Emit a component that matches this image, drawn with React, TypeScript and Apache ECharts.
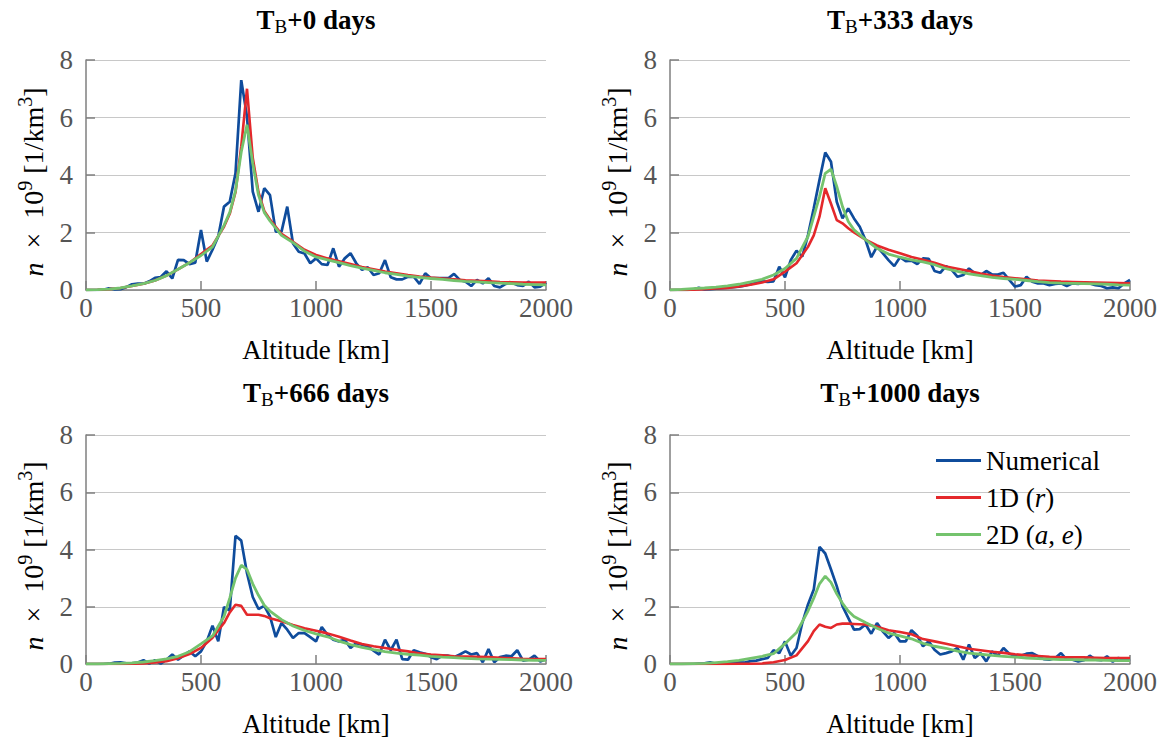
import React, { useEffect, useRef } from "react";
import * as echarts from "echarts";

const FONT = "Liberation Serif";

// Altitude grid of the numerical histogram (km)
const ALT: number[] = Array.from({ length: 81 }, (_, i) => i * 25);
// Altitudes of the analytic (smooth) model curves (km)
const SMOOTH_ALT: number[] = [
  0, 50, 100, 150, 200, 250, 300, 350, 400, 450, 500, 550, 600,
  625, 650, 675, 700, 725, 750, 775,
  800, 850, 900, 950, 1000, 1050, 1100, 1150, 1200, 1250, 1300, 1350, 1400, 1450,
  1500, 1550, 1600, 1650, 1700, 1750, 1800, 1850, 1900, 1950, 2000,
];

const TITLES_DAYS: string[] = ["0", "333", "666", "1000"];
const X_TICKS: number[] = [0, 500, 1000, 1500, 2000];
const Y_TICKS: number[] = [0, 2, 4, 6, 8];

// Numerical
const NUM_0: number[] = [
  0, 0, 0, 0.01, 0.06, 0.02, 0.03, 0.1, 0.2, 0.22,
  0.22, 0.3, 0.42, 0.45, 0.65, 0.4, 1.05, 1.04, 0.9, 0.95,
  2.09, 0.99, 1.4, 1.86, 2.9, 3.07, 4.06, 7.3, 6.03, 3.42,
  2.72, 3.54, 3.3, 2.03, 2.03, 2.9, 1.62, 1.33, 1.27, 0.93,
  1.1, 0.9, 0.87, 1.45, 0.81, 1.1, 1.28, 0.93, 0.7, 0.79,
  0.52, 0.58, 1.04, 0.44, 0.37, 0.37, 0.46, 0.46, 0.21, 0.58,
  0.41, 0.41, 0.41, 0.41, 0.56, 0.35, 0.29, 0.14, 0.35, 0.23,
  0.41, 0.14, 0.09, 0.21, 0.26, 0.17, 0.14, 0.29, 0.09, 0.12,
  0.26,
];
const NUM_333: number[] = [
  0, 0, 0, 0, 0.02, 0.08, 0.02, 0.03, 0.05, 0.06,
  0.08, 0.1, 0.12, 0.15, 0.2, 0.25, 0.3, 0.28, 0.3, 0.81,
  0.44, 1.04, 1.37, 1.16, 1.91, 2.84, 3.83, 4.78, 4.46, 3.07,
  2.49, 2.84, 2.49, 2.2, 1.74, 1.14, 1.51, 1.28, 1.04, 0.83,
  1.14, 1.0, 1.02, 0.9, 1.1, 1.08, 0.66, 0.6, 0.83, 0.7,
  0.46, 0.52, 0.75, 0.58, 0.52, 0.66, 0.54, 0.54, 0.6, 0.35,
  0.12, 0.17, 0.46, 0.29, 0.23, 0.23, 0.17, 0.21, 0.23, 0.14,
  0.23, 0.21, 0.26, 0.23, 0.17, 0.14, 0.06, 0.09, 0.06, 0.23,
  0.35,
];
const NUM_666: number[] = [
  0, 0, 0, 0, 0.01, 0.05, 0.06, 0.02, 0.02, 0.05,
  0.13, 0.01, 0.13, 0.01, 0.15, 0.33, 0.15, 0.3, 0.44, 0.27,
  0.44, 0.79, 1.34, 0.79, 1.99, 1.87, 4.48, 4.31, 3.17, 2.34,
  1.92, 2.03, 1.66, 0.94, 1.43, 1.2, 0.91, 1.08, 1.08, 0.94,
  0.79, 1.29, 1.02, 0.85, 0.79, 0.85, 0.56, 0.73, 0.67, 0.62,
  0.47, 0.33, 0.85, 0.48, 0.85, 0.17, 0.15, 0.48, 0.41, 0.36,
  0.24, 0.17, 0.29, 0.29, 0.24, 0.33, 0.44, 0.33, 0.38, 0.06,
  0.52, 0.06, 0.24, 0.29, 0.27, 0.48, 0.12, 0.15, 0.29, 0.09,
  0.17,
];
const NUM_1000: number[] = [
  0, 0, 0, 0, 0, 0.01, 0.02, 0.06, 0.01, 0.02,
  0.02, 0.03, 0.06, 0.05, 0.1, 0.12, 0.17, 0.21, 0.48, 0.38,
  0.79, 0.29, 0.56, 1.43, 2.08, 2.6, 4.09, 3.86, 3.3, 2.72,
  2.02, 1.61, 1.2, 1.22, 1.38, 1.06, 1.43, 1.14, 0.91, 1.08,
  0.79, 0.79, 1.18, 0.99, 0.62, 0.79, 0.5, 0.33, 0.38, 0.44,
  0.56, 0.15, 0.68, 0.21, 0.38, 0.09, 0.44, 0.29, 0.56, 0.36,
  0.29, 0.29, 0.36, 0.38, 0.27, 0.17, 0.15, 0.21, 0.38, 0.15,
  0.15, 0.09, 0.13, 0.29, 0.15, 0.13, 0.27, 0.08, 0.21, 0.13,
  0.17,
];

// 1D (r)
const R1D_0: number[] = [
  0, 0.01, 0.03, 0.07, 0.14, 0.22, 0.33, 0.5, 0.72, 0.95, 1.25, 1.55, 2.2,
  2.65, 3.4, 5.0, 7.0, 4.6, 3.4, 2.75,
  2.45, 1.95, 1.68, 1.4, 1.22, 1.1, 1.0, 0.9, 0.8, 0.72, 0.64, 0.58, 0.52, 0.47,
  0.43, 0.4, 0.37, 0.34, 0.32, 0.3, 0.28, 0.27, 0.26, 0.26, 0.26,
];
const R1D_333: number[] = [
  0, 0, 0.01, 0.03, 0.05, 0.07, 0.12, 0.18, 0.26, 0.37, 0.64, 0.93, 1.5,
  1.9, 2.55, 3.54, 3.0, 2.43, 2.32, 2.15,
  2.0, 1.75, 1.55, 1.4, 1.28, 1.15, 1.05, 0.95, 0.82, 0.74, 0.66, 0.57, 0.5, 0.45,
  0.41, 0.37, 0.33, 0.31, 0.29, 0.28, 0.27, 0.26, 0.25, 0.24, 0.23,
];
const R1D_666: number[] = [
  0, 0, 0, 0, 0.01, 0.02, 0.05, 0.1, 0.2, 0.35, 0.56, 0.92, 1.43,
  1.8, 2.07, 2.03, 1.72, 1.72, 1.72, 1.68,
  1.6, 1.49, 1.36, 1.25, 1.16, 1.07, 0.95, 0.82, 0.7, 0.62, 0.56, 0.5, 0.44, 0.37,
  0.33, 0.3, 0.27, 0.26, 0.25, 0.24, 0.22, 0.2, 0.18, 0.17, 0.17,
];
const R1D_1000: number[] = [
  0, 0, 0, 0, 0, 0, 0.01, 0.01, 0.02, 0.06, 0.14, 0.3, 0.8,
  1.15, 1.38, 1.3, 1.26, 1.38, 1.41, 1.41,
  1.4, 1.38, 1.3, 1.18, 1.12, 1.04, 0.87, 0.79, 0.71, 0.62, 0.53, 0.48, 0.43, 0.39,
  0.34, 0.3, 0.28, 0.25, 0.23, 0.23, 0.23, 0.22, 0.21, 0.21, 0.21,
];

// 2D (a, e)
const AE2D_0: number[] = [
  0, 0.01, 0.03, 0.07, 0.14, 0.22, 0.33, 0.5, 0.72, 0.95, 1.2, 1.5, 2.25,
  2.7, 3.45, 4.8, 5.75, 4.4, 3.3, 2.7,
  2.4, 1.9, 1.65, 1.35, 1.15, 1.05, 0.95, 0.85, 0.76, 0.68, 0.6, 0.54, 0.48, 0.44,
  0.4, 0.37, 0.33, 0.3, 0.28, 0.26, 0.24, 0.22, 0.2, 0.19, 0.18,
];
const AE2D_333: number[] = [
  0, 0.02, 0.05, 0.07, 0.1, 0.14, 0.2, 0.28, 0.37, 0.52, 0.75, 1.1, 1.86,
  2.55, 3.25, 4.06, 4.2, 3.6, 2.9, 2.38,
  2.09, 1.75, 1.45, 1.25, 1.14, 1.05, 0.98, 0.88, 0.74, 0.65, 0.56, 0.5, 0.44, 0.4,
  0.37, 0.33, 0.29, 0.26, 0.24, 0.23, 0.22, 0.21, 0.2, 0.18, 0.17,
];
const AE2D_666: number[] = [
  0, 0, 0.01, 0.02, 0.04, 0.07, 0.12, 0.18, 0.27, 0.43, 0.7, 0.98, 1.66,
  2.3, 3.0, 3.45, 3.3, 2.8, 2.4, 2.05,
  1.85, 1.55, 1.33, 1.17, 1.05, 0.95, 0.8, 0.68, 0.58, 0.5, 0.43, 0.38, 0.34, 0.31,
  0.27, 0.24, 0.22, 0.2, 0.18, 0.17, 0.16, 0.15, 0.14, 0.13, 0.13,
];
const AE2D_1000: number[] = [
  0, 0, 0.01, 0.02, 0.05, 0.08, 0.13, 0.2, 0.27, 0.36, 0.71, 1.1, 1.85,
  2.3, 2.8, 3.07, 2.85, 2.45, 2.12, 1.85,
  1.66, 1.45, 1.25, 1.08, 0.98, 0.88, 0.72, 0.62, 0.55, 0.45, 0.38, 0.34, 0.3, 0.27,
  0.24, 0.21, 0.19, 0.17, 0.15, 0.15, 0.14, 0.14, 0.13, 0.12, 0.12,
];

const NUMERICAL = [NUM_0, NUM_333, NUM_666, NUM_1000];
const MODEL_1D = [R1D_0, R1D_333, R1D_666, R1D_1000];
const MODEL_2D = [AE2D_0, AE2D_333, AE2D_666, AE2D_1000];

const SERIES_NAMES = ["Numerical", "1D (r)", "2D (a, e)"];
const COLORS = ["#0f4c9c", "#e4282b", "#74c36d"];

const GRIDS = [
  { left: 86, top: 60, width: 460, height: 230 },
  { left: 670, top: 60, width: 460, height: 230 },
  { left: 86, top: 435, width: 460, height: 229 },
  { left: 670, top: 435, width: 460, height: 229 },
];
const TITLE_POS = [
  [316, 20],
  [900, 20],
  [316, 393],
  [900, 393],
];
const YNAME_POS = [
  [33, 182],
  [617, 182],
  [33, 556],
  [617, 556],
];

function buildOption(): any {
  const axisGrey = "#7f7f7f";
  const xAxes = GRIDS.map((_, i) => ({
    gridIndex: i,
    type: "value",
    min: X_TICKS[0],
    max: X_TICKS[X_TICKS.length - 1],
    interval: 500,
    axisLine: { show: true, lineStyle: { color: axisGrey, width: 1.5 } },
    axisTick: { show: true, inside: true, length: 9, lineStyle: { color: axisGrey, width: 1.5 } },
    axisLabel: {
      color: "#555",
      fontSize: 27,
      fontFamily: FONT,
      margin: 4,
      formatter: (v: number) => String(v),
    },
    splitLine: { show: false },
    name: "Altitude [km]",
    nameLocation: "middle",
    nameGap: 46,
    nameTextStyle: { color: "#000", fontSize: 27, fontFamily: FONT },
  }));
  const yAxes = GRIDS.map((_, i) => ({
    gridIndex: i,
    type: "value",
    min: Y_TICKS[0],
    max: Y_TICKS[Y_TICKS.length - 1],
    interval: 2,
    axisLine: { show: true, lineStyle: { color: axisGrey, width: 1.5 } },
    axisTick: { show: true, inside: true, length: 9, lineStyle: { color: axisGrey, width: 1.5 } },
    axisLabel: {
      color: "#555",
      fontSize: 27,
      fontFamily: FONT,
      margin: 13,
      formatter: (v: number) => String(v),
    },
    splitLine: { show: true, lineStyle: { color: "#c8c8c8", width: 1.2 } },
  }));

  const series: any[] = [];
  GRIDS.forEach((_, p) => {
    series.push({
      type: "line",
      name: SERIES_NAMES[0],
      xAxisIndex: p,
      yAxisIndex: p,
      data: ALT.map((a, i) => [a, NUMERICAL[p][i]]),
      showSymbol: false,
      symbol: "none",
      color: COLORS[0],
      lineStyle: { color: COLORS[0], width: 2.7 },
      z: 2,
    });
    series.push({
      type: "line",
      name: SERIES_NAMES[1],
      xAxisIndex: p,
      yAxisIndex: p,
      data: SMOOTH_ALT.map((a, i) => [a, MODEL_1D[p][i]]),
      showSymbol: false,
      symbol: "none",
      color: COLORS[1],
      lineStyle: { color: COLORS[1], width: 2.6 },
      z: 3,
    });
    series.push({
      type: "line",
      name: SERIES_NAMES[2],
      xAxisIndex: p,
      yAxisIndex: p,
      data: SMOOTH_ALT.map((a, i) => [a, MODEL_2D[p][i]]),
      showSymbol: false,
      symbol: "none",
      color: COLORS[2],
      lineStyle: { color: COLORS[2], width: 2.8 },
      z: 4,
    });
  });

  const legendLabels: Record<string, string> = {
    "Numerical": "Numerical",
    "1D (r)": "1D ({i|r})",
    "2D (a, e)": "2D ({i|a}, {i|e})",
  };

  const titles = TITLES_DAYS.map((d, i) => ({
    type: "text",
    x: TITLE_POS[i][0],
    y: TITLE_POS[i][1],
    style: {
      text: `{b|T}{s|B}{b|+${d} days}`,
      textAlign: "center",
      textVerticalAlign: "middle",
      fill: "#000",
      rich: {
        b: { fontSize: 27, fontWeight: "bold", fontFamily: FONT, fill: "#000" },
        s: { fontSize: 19, fontFamily: FONT, fill: "#000", padding: [12, 0, 0, 0] },
      },
    },
  }));
  const yNames = YNAME_POS.map((pos) => ({
    type: "text",
    x: pos[0],
    y: pos[1],
    rotation: Math.PI / 2,
    style: {
      text: "{i|n}{t|  ×  10}{s|9}{t| [1/km}{s|3}{t|]}",
      textAlign: "center",
      textVerticalAlign: "middle",
      fill: "#000",
      rich: {
        i: { fontSize: 28, fontStyle: "italic", fontFamily: FONT, fill: "#000" },
        t: { fontSize: 28, fontFamily: FONT, fill: "#000" },
        s: { fontSize: 20, fontFamily: FONT, fill: "#000", padding: [0, 0, 16, 0] },
      },
    },
  }));

  return {
    animation: false,
    grid: GRIDS,
    xAxis: xAxes,
    yAxis: yAxes,
    series,
    legend: {
      orient: "vertical",
      left: 931,
      top: 442,
      icon: "rect",
      itemWidth: 45,
      itemHeight: 3,
      itemGap: 10,
      data: SERIES_NAMES,
      selectedMode: false,
      formatter: (name: string) => legendLabels[name] || name,
      textStyle: {
        fontSize: 27,
        fontFamily: FONT,
        color: "#000",
        lineHeight: 26,
        rich: {
          i: { fontStyle: "italic", fontSize: 27, fontFamily: FONT, color: "#000" },
        },
      },
    },
    graphic: [...titles, ...yNames],
  };
}

const CSS = `.chart-root svg text, .chart-root svg tspan { font-family: "Liberation Serif", "DejaVu Serif", serif !important; }`;

export default function App() {
  const ref = useRef<HTMLDivElement>(null);
  useEffect(() => {
    const chart = echarts.init(ref.current as HTMLDivElement, null, { renderer: "svg" });
    chart.setOption(buildOption());
    return () => chart.dispose();
  }, []);
  return (
    <>
      <style>{CSS}</style>
      <div
        ref={ref}
        className="chart-root"
        style={{ position: "absolute", left: 0, top: 0, width: 1173, height: 745, background: "#fff" }}
      />
    </>
  );
}
